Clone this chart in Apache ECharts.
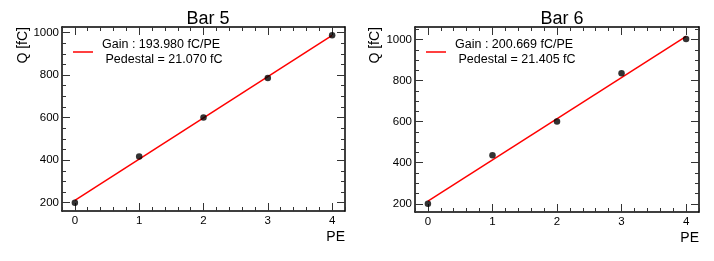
<!DOCTYPE html>
<html>
<head>
<meta charset="utf-8">
<script src="https://cdn.jsdelivr.net/npm/echarts@6/dist/echarts.min.js"></script>
<style>
html,body{margin:0;padding:0;background:#fff;}
#c{width:714px;height:261px;}
</style>
</head>
<body>
<div id="c"></div>
<script>
// ---- data ----
const titles = ['Bar 5', 'Bar 6'];
const pe = [0, 1, 2, 3, 4];
const q5 = [200, 417, 601, 786, 987];
const q6 = [200, 436, 601, 836, 1002];
const fitX = [0, 4];
const fit5 = [211, 987];
const fit6 = [213, 1015];
const legendText5 = ['Gain : 193.980 fC/PE', ' Pedestal = 21.070 fC'];
const legendText6 = ['Gain : 200.669 fC/PE', ' Pedestal = 21.405 fC'];
const xTicks = [0, 1, 2, 3, 4];
const xMinorTicks = [-0.2, 0, 0.2, 0.4, 0.6, 0.8, 1, 1.2, 1.4, 1.6, 1.8, 2, 2.2, 2.4, 2.6, 2.8, 3, 3.2, 3.4, 3.6, 3.8, 4, 4.2];
const yTicks = [200, 400, 600, 800, 1000];
const yMinorTicks = [200, 250, 300, 350, 400, 450, 500, 550, 600, 650, 700, 750, 800, 850, 900, 950, 1000, 1050];
const xRange = [-0.2, 4.2];
const yRange5 = [161, 1026];
const yRange6 = [160, 1061];
const xName = 'PE';
const yName = 'Q [fC]';

const FONT = 'Liberation Sans';
const panels = [
  {grid: {left: 62, top: 27, width: 283, height: 184}, yRange: yRange5, q: q5, fit: fit5, legend: legendText5, title: titles[0], cx: 203, yNameX: 23},
  {grid: {left: 415, top: 27, width: 284, height: 185}, yRange: yRange6, q: q6, fit: fit6, legend: legendText6, title: titles[1], cx: 557, yNameX: 375}
];

const grids = [], xAxes = [], yAxes = [], series = [], titleArr = [], legends = [], graphics = [];
const lineStyle = {color: '#000', width: 1.5};
const tickColor = '#333';
const inRange = (arr, r) => arr.filter(v => v >= r[0] - 1e-9 && v <= r[1] + 1e-9);

panels.forEach((p, gi) => {
  grids.push(Object.assign({containLabel: false}, p.grid));
  const base = xAxes.length;
  ['bottom', 'top'].forEach(pos => {
    xAxes.push({
      type: 'value', gridIndex: gi, position: pos, min: xRange[0], max: xRange[1],
      axisLine: {show: true, onZero: false, lineStyle: lineStyle},
      axisTick: {show: true, inside: true, length: 8, customValues: xTicks, lineStyle: {color: tickColor}},
      axisLabel: pos === 'bottom' ? {show: true, customValues: xTicks, margin: 4, fontFamily: FONT, fontSize: 11.5, color: '#000'} : {show: false},
      splitLine: {show: false},
      name: pos === 'bottom' ? xName : '',
      nameLocation: 'end', nameGap: 0,
      nameTextStyle: {fontFamily: FONT, fontSize: 14, color: '#000', align: 'right', verticalAlign: 'top', padding: [19, 0, 0, 0]}
    });
    xAxes.push({
      type: 'value', gridIndex: gi, position: pos, min: xRange[0], max: xRange[1],
      axisLine: {show: false, onZero: false},
      axisTick: {show: true, inside: true, length: 4, customValues: xMinorTicks, lineStyle: {color: tickColor}},
      axisLabel: {show: false}, splitLine: {show: false}
    });
  });
  ['left', 'right'].forEach(pos => {
    yAxes.push({
      type: 'value', gridIndex: gi, position: pos, min: p.yRange[0], max: p.yRange[1],
      axisLine: {show: true, onZero: false, lineStyle: lineStyle},
      axisTick: {show: true, inside: true, length: 8, customValues: yTicks, lineStyle: {color: tickColor}},
      axisLabel: pos === 'left' ? {show: true, customValues: yTicks, margin: 3, fontFamily: FONT, fontSize: 11.5, color: '#000', formatter: v => String(v)} : {show: false},
      splitLine: {show: false}
    });
    yAxes.push({
      type: 'value', gridIndex: gi, position: pos, min: p.yRange[0], max: p.yRange[1],
      axisLine: {show: false, onZero: false},
      axisTick: {show: true, inside: true, length: 4, customValues: inRange(yMinorTicks, p.yRange), lineStyle: {color: tickColor}},
      axisLabel: {show: false}, splitLine: {show: false}
    });
  });
  const name = 'fit' + gi;
  series.push({
    type: 'line', name: name, xAxisIndex: base, yAxisIndex: base,
    data: fitX.map((x, i) => [x, p.fit[i]]),
    showSymbol: false, symbol: 'none', lineStyle: {color: '#ff0000', width: 1.5}, itemStyle: {color: '#ff0000'},
    silent: true, z: 2
  });
  series.push({
    type: 'scatter', name: 'data' + gi, xAxisIndex: base, yAxisIndex: base,
    data: pe.map((x, i) => [x, p.q[i]]),
    symbolSize: 6.5, itemStyle: {color: '#000'}, z: 3
  });
  titleArr.push({
    text: p.title, left: p.cx, top: 5, textAlign: 'center',
    textStyle: {fontFamily: FONT, fontSize: 18, fontWeight: 'normal', color: '#000'}
  });
  legends.push({
    data: [name], left: p.grid.left + 6, top: 32, icon: 'rect', itemWidth: 20, itemHeight: 1.5,
    formatter: () => p.legend.join('\n'),
    textStyle: {fontFamily: FONT, fontSize: 12.5, color: '#000', lineHeight: 15, padding: [0, 0, 0, 4]},
    selectedMode: false
  });
  graphics.push({
    type: 'text', x: p.yNameX, y: p.grid.top, rotation: Math.PI / 2,
    style: {text: yName, fontFamily: FONT, fontSize: 14, fill: '#000', align: 'right', verticalAlign: 'middle'}
  });
});

const chart = echarts.init(document.getElementById('c'), null, {renderer: 'canvas'});
chart.setOption({
  animation: false,
  backgroundColor: '#fff',
  title: titleArr,
  legend: legends,
  grid: grids,
  xAxis: xAxes,
  yAxis: yAxes,
  series: series,
  graphic: graphics
});
</script>
</body>
</html>
